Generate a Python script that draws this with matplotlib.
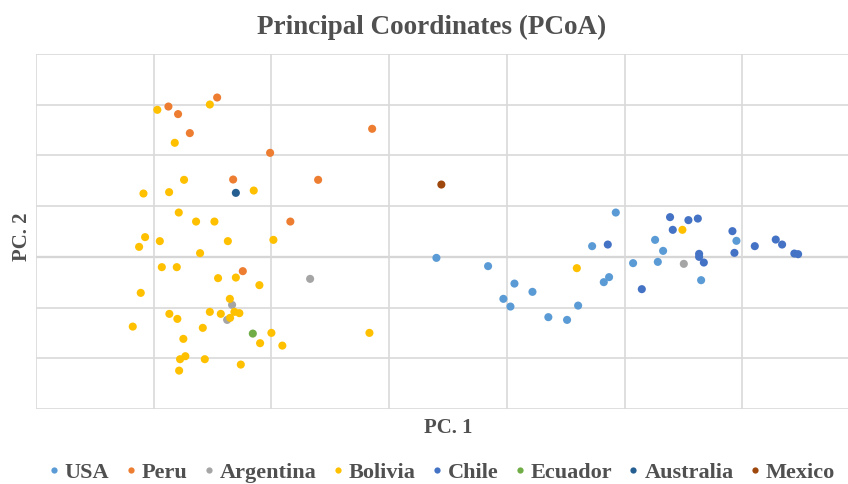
import matplotlib
matplotlib.use("Agg")
import matplotlib.pyplot as plt
from matplotlib.lines import Line2D

# Data (PC1, PC2)
usa_x = [0.0402, 0.0841, 0.1065, 0.0971, 0.1031, 0.1218, 0.1353, 0.1512, 0.1606, 0.1725, 0.1926, 0.1824, 0.1869, 0.2073, 0.2260, 0.2328, 0.2283, 0.2651, 0.2951]
usa_y = [-0.0020, -0.0183, -0.0527, -0.0828, -0.0980, -0.0690, -0.1189, -0.1243, -0.0961, 0.0211, 0.0874, -0.0499, -0.0400, -0.0124, 0.0335, 0.0118, -0.0099, -0.0460, 0.0316]

peru_x = [-0.1875, -0.1793, -0.1461, -0.0144, -0.1693, -0.1011, -0.1325, -0.0603, -0.0839, -0.1243]
peru_y = [0.2964, 0.2815, 0.3142, 0.2525, 0.2440, 0.2051, 0.1525, 0.1519, 0.0696, -0.0282]

arg_x = [-0.0671, -0.1334, -0.1376, 0.2504]
arg_y = [-0.0434, -0.0947, -0.1243, -0.0138]

bol_x = [-0.1969, -0.1523, -0.1821, -0.1742, -0.2087, -0.1869, -0.1150, -0.1787, -0.1640, -0.1484,
         -0.2073, -0.2124, -0.1948, -0.1370, -0.0983, -0.1606, -0.1931, -0.1804, -0.1453, -0.1302,
         -0.1102, -0.2110, -0.1353, -0.1867, -0.1799, -0.1523, -0.1430, -0.1314, -0.1272, -0.1351,
         -0.2178, -0.1583, -0.1000, -0.0167, -0.1748, -0.1096, -0.0907, -0.1731, -0.1776, -0.1566,
         -0.1260, -0.1784, 0.1595, 0.2492]
bol_y = [0.2899, 0.3004, 0.2249, 0.1519, 0.1249, 0.1276, 0.1308, 0.0874, 0.0696, 0.0696,
         0.0389, 0.0197, 0.0310, 0.0310, 0.0335, 0.0073, -0.0203, -0.0203, -0.0420, -0.0408,
         -0.0558, -0.0710, -0.0828, -0.1124, -0.1223, -0.1085, -0.1124, -0.1085, -0.1110, -0.1203,
         -0.1375, -0.1400, -0.1499, -0.1499, -0.1617, -0.1702, -0.1750, -0.1959, -0.2018, -0.2018,
         -0.2124, -0.2243, -0.0223, 0.0533]

chi_x = [0.1858, 0.2147, 0.2387, 0.2410, 0.2543, 0.2623, 0.2634, 0.2634, 0.2674, 0.2917, 0.2934, 0.3107, 0.3285, 0.3339, 0.3443, 0.3475]
chi_y = [0.0243, -0.0637, 0.0783, 0.0533, 0.0724, 0.0755, 0.0059, 0.0000, -0.0112, 0.0507, 0.0079, 0.0211, 0.0341, 0.0243, 0.0065, 0.0053]

ecu_x = [-0.1158]
ecu_y = [-0.1513]

aus_x = [-0.1302]
aus_y = [0.1262]

mex_x = [0.0444]
mex_y = [0.1426]

series = [
    ("USA", usa_x, usa_y, "#5B9BD5"),
    ("Peru", peru_x, peru_y, "#ED7D31"),
    ("Argentina", arg_x, arg_y, "#A5A5A5"),
    ("Bolivia", bol_x, bol_y, "#FFC000"),
    ("Chile", chi_x, chi_y, "#4472C4"),
    ("Ecuador", ecu_x, ecu_y, "#70AD47"),
    ("Australia", aus_x, aus_y, "#255E91"),
    ("Mexico", mex_x, mex_y, "#9E480E"),
]

serif = ["Liberation Serif", "DejaVu Serif"]
txtc = "#505050"

fig = plt.figure(figsize=(8.48, 4.85), dpi=100)
ax = fig.add_axes([36/848, 1-410/485, 1-36/848, (410-55)/485])

for name, xs, ys, c in series:
    ax.scatter(xs, ys, s=34, color=c, edgecolors="none", zorder=3, label=name)

ax.set_xlim(-0.3, -0.3 + (848-36)/117.7*0.1)
ax.set_ylim(-0.3, 0.4)
ax.set_xticks([-0.3, -0.2, -0.1, 0.0, 0.1, 0.2, 0.3])
ax.set_yticks([-0.3, -0.2, -0.1, 0.0, 0.1, 0.2, 0.3, 0.4])
ax.tick_params(length=0, labelleft=False, labelbottom=False)
ax.grid(True, color="#D9D9D9", linewidth=1.2, zorder=0)
ax.axhline(0, color="#C8C8C8", linewidth=1.6, zorder=1)
for sp in ax.spines.values():
    sp.set_visible(False)

fig.text(432/848, 1-27/485, "Principal Coordinates (PCoA)", ha="center", va="center",
         fontsize=19.5, fontweight="bold", family=serif, color=txtc)
fig.text(448/848, 1-428/485, "PC. 1", ha="center", va="center",
         fontsize=15, fontweight="bold", family=serif, color=txtc)
fig.text(22/848, 1-237/485, "PC. 2", ha="center", va="center", rotation=90,
         fontsize=15, fontweight="bold", family=serif, color=txtc)

handles = [Line2D([], [], linestyle="none", marker="o", markersize=4.5,
                  markerfacecolor=c, markeredgecolor="none") for _, _, _, c in series]
labels = [s[0] for s in series]
leg = fig.legend(handles, labels, loc="center", bbox_to_anchor=(440/848, 1-473/485),
                 ncol=8, frameon=False, handletextpad=0.1, columnspacing=0.55,
                 handlelength=0.8, prop={"family": serif, "weight": "bold", "size": 16})
for t in leg.get_texts():
    t.set_color(txtc)

fig.savefig("out.png", dpi=100)
